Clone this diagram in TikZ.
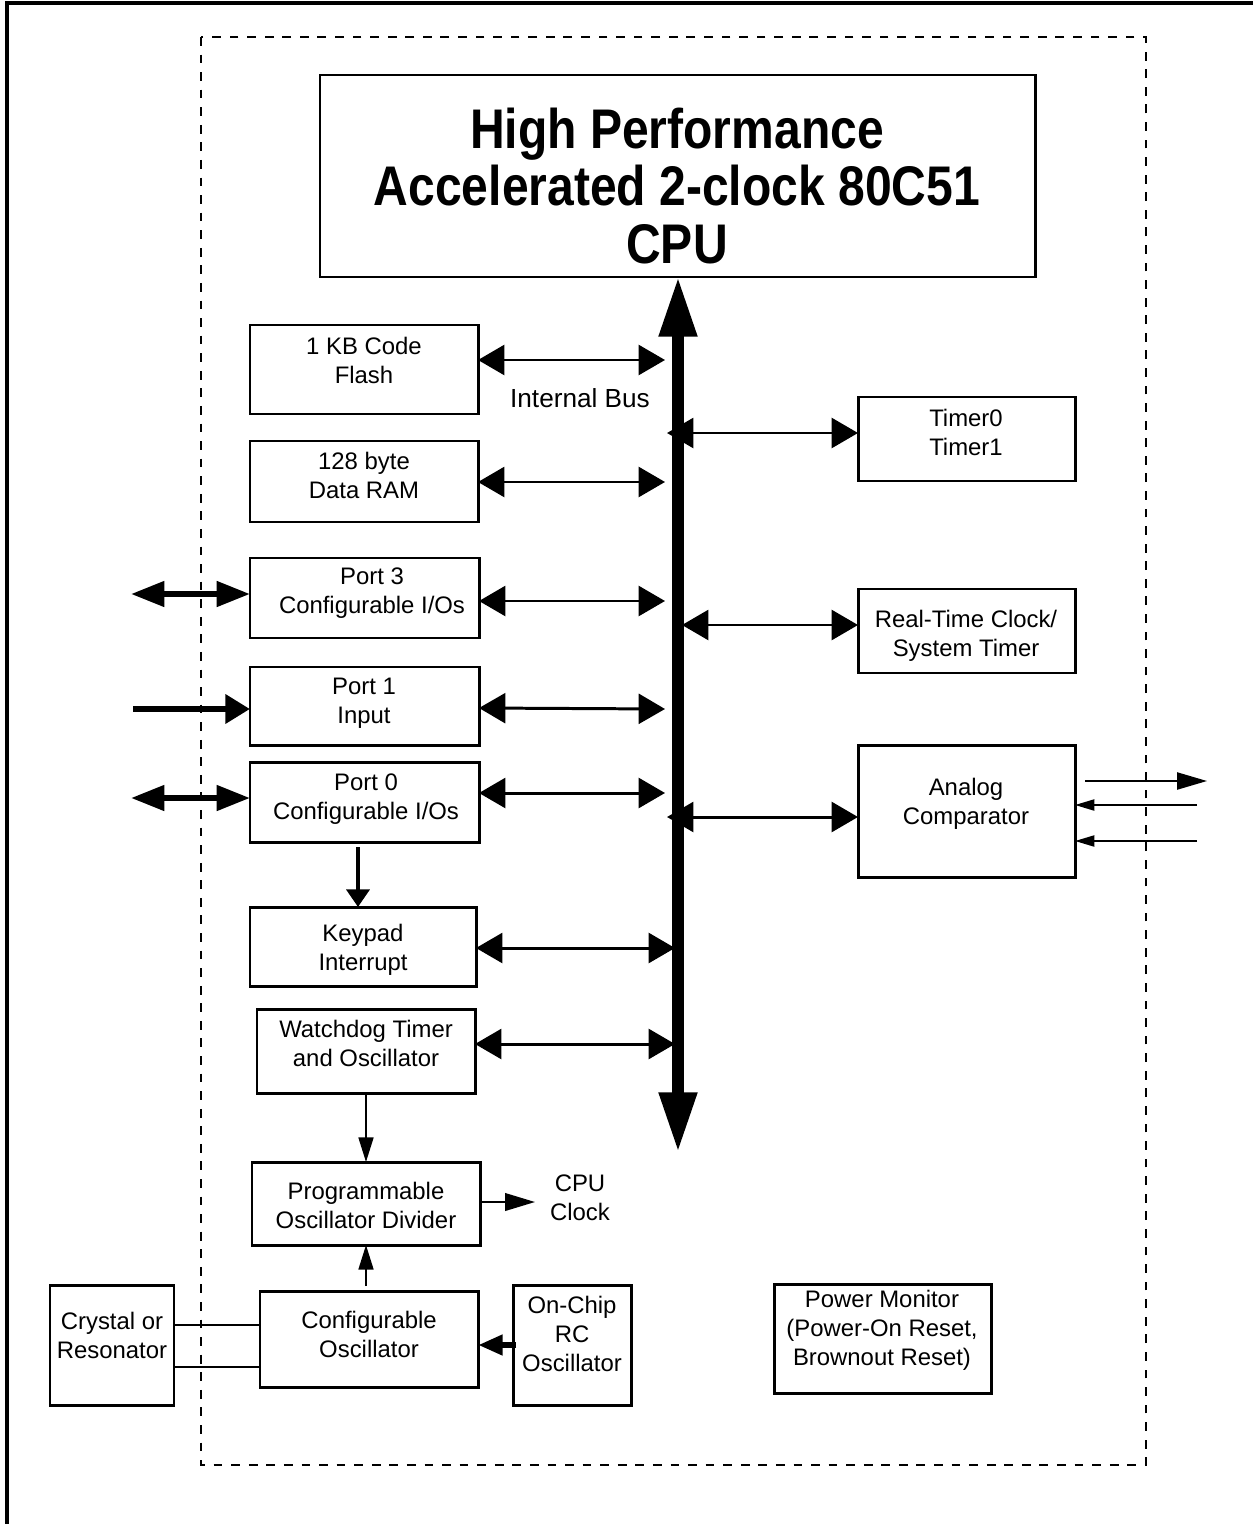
\documentclass[tikz,border=0pt]{standalone}
\usepackage{fontspec}
\setmainfont{Liberation Sans}
\newfontfamily\titlefont[FakeStretch=0.86]{Liberation Sans}
\usetikzlibrary{arrows.meta}
\newcommand\blkbox[5]{\node[blk, minimum width={(#4-#2)*0.02cm}, minimum height={(#5-#3)*0.02cm}] (#1) at ({(#2+#4)/2},{(#3+#5)/2}) {};}
\tikzset{
  blk/.style={draw, rectangle, line width=1.7pt, inner sep=0pt, outer sep=0pt},
  txt/.style={font=\fontsize{13.6}{16.5}\selectfont, align=center, inner sep=0pt},
  frameline/.style={line width=2.3pt},
  dashbox/.style={line width=1.4pt, dash pattern=on 5pt off 5pt},
  busarr/.style={line width=6.3pt, {Triangle[length=34pt,width=20.5pt]}-{Triangle[length=34pt,width=20.5pt]}},
  darr/.style={line width=1.7pt, {Triangle[length=15pt,width=17pt]}-{Triangle[length=15pt,width=17pt]}},
  extdarr/.style={line width=3.4pt, {Triangle[length=19pt,width=14pt]}-{Triangle[length=19pt,width=14pt]}},
  extin/.style={line width=3.6pt, -{Triangle[length=14pt,width=16pt]}},
  kparr/.style={line width=2.3pt, -{Triangle[length=10pt,width=13pt]}},
  thinarr/.style={line width=1.1pt, -{Triangle[length=14pt,width=8.5pt]}},
  clkarr/.style={line width=1.1pt, -{Triangle[length=17pt,width=10pt]}},
  rcarr/.style={line width=3.8pt, -{Triangle[length=14pt,width=11pt]}},
  acout/.style={line width=1.1pt, -{Triangle[length=17pt,width=9.7pt]}},
  acin/.style={line width=1.1pt, -{Triangle[length=11pt,width=6.3pt]}},
  wire/.style={line width=1.1pt}
}
\begin{document}
\begin{tikzpicture}[x=0.02cm, y=-0.02cm]
\useasboundingbox (0,0) rectangle (1253,1524);
% outer frame and chip outline
\draw[frameline] (7,1530) -- (7,3) -- (1260,3);
\draw[dashbox] (201,37) rectangle (1146,1465);
% blocks
\blkbox{cpu}{320}{75}{1035}{277}
\blkbox{flash}{250}{325}{478}{414}
\blkbox{ram}{250}{441}{478}{522}
\blkbox{port3}{250}{558}{479}{638}
\blkbox{port1}{250}{667}{479}{745}
\blkbox{port0}{250}{762}{479}{842}
\blkbox{keypad}{250}{907}{476}{986}
\blkbox{wdt}{257}{1009}{475}{1093}
\blkbox{div}{252}{1162}{480}{1245}
\blkbox{cosc}{260}{1291}{478}{1387}
\blkbox{rcosc}{513}{1285}{631}{1405}
\blkbox{xtal}{50}{1285}{174}{1405}
\blkbox{pmon}{774}{1284}{991}{1393}
\blkbox{timer}{858}{397}{1075}{481}
\blkbox{rtc}{858}{589}{1075}{673}
\blkbox{acomp}{858}{745}{1075}{877}
% texts
\node[inner sep=0pt, align=center, font=\titlefont\bfseries\fontsize{31.8}{32.5}\selectfont] (cputxt) at (677,186) {High Performance\\Accelerated 2-clock 80C51\\CPU};
\node[txt] (flasht) at (364,360) {1 KB Code\\Flash};
\node[txt] (ramt) at (364,475) {128 byte\\Data RAM};
\node[txt] (port3t) at (372,593.5) {Port 3\\Configurable I/Os};
\node[txt] (port1t) at (364,703) {Port 1\\Input};
\node[txt] (port0t) at (366,799) {Port 0\\Configurable I/Os};
\node[txt] (keypadt) at (363,950) {Keypad\\Interrupt};
\node[txt] (wdtt) at (366,1043.5) {Watchdog Timer\\and Oscillator};
\node[txt] (divt) at (366,1205) {Programmable\\Oscillator Divider};
\node[txt] (cosct) at (369,1334) {Configurable\\Oscillator};
\node[txt] (rcosct) at (572,1334) {On-Chip\\RC\\Oscillator};
\node[txt] (xtalt) at (112,1335.5) {Crystal or\\Resonator};
\node[txt] (pmont) at (882,1330) {Power Monitor\\(Power-On Reset,\\Brownout Reset)};
\node[txt] (timert) at (966,432) {Timer0\\Timer1};
\node[txt] (rtct) at (966,636) {Real-Time Clock/\\System Timer};
\node[txt] (acompt) at (966,804) {Analog\\Comparator};
\node[txt, font=\fontsize{14.9}{18}\selectfont] (busl) at (580,398) {Internal Bus};
\node[txt] (clkl) at (580,1198) {CPU\\Clock};
% bus
\coordinate (bustop) at (678,277);
\coordinate (busbot) at (678,1152);
\coordinate (busL) at (665,0);
\coordinate (busK) at (675,0);
\coordinate (busR) at (667,0);
\coordinate (busR2) at (682,0);
\draw[busarr] (bustop) -- (busbot);
% block <-> bus
\draw[darr] (flash.east |- 0,360) -- (busL |- 0,360);
\draw[darr] (ram.east |- 0,482) -- (busL |- 0,482);
\draw[darr] (port3.east |- 0,601) -- (busL |- 0,601);
\draw[darr] (port1.east |- 0,708) -- (busL |- 0,709);
\draw[darr] (port0.east |- 0,793) -- (busL |- 0,793);
\draw[darr] (keypad.east |- 0,948) -- (busK |- 0,948);
\draw[darr] (wdt.east |- 0,1044) -- (busK |- 0,1044);
\draw[darr] (busR |- 0,433) -- (timer.west |- 0,433);
\draw[darr] (busR2 |- 0,625) -- (rtc.west |- 0,625);
\draw[darr] (busR |- 0,817) -- (acomp.west |- 0,817);
% external port pins
\coordinate (p3ext) at (131,594);
\coordinate (p1ext) at (133,709);
\coordinate (p0ext) at (131,798);
\draw[extdarr] (p3ext) -- (port3.west |- p3ext);
\draw[extin] (p1ext) -- (port1.west |- p1ext);
\draw[extdarr] (p0ext) -- (port0.west |- p0ext);
% internal flows
\draw[kparr] (port0.south -| 358,0) ++(0,5) -- (keypad.north -| 358,0);
\draw[thinarr] (wdt.south -| 366,0) -- (div.north -| 366,0);
\draw[thinarr] (cosc.north -| 366,0) ++(0,-5) -- (div.south -| 366,0);
\coordinate (clkend) at (535,1202);
\draw[clkarr] (div.east |- clkend) -- (clkend);
\draw[rcarr] (rcosc.west |- 0,1345) ++(3,0) -- (cosc.east |- 0,1345);
\draw[wire] (xtal.east |- 0,1325) -- (cosc.west |- 0,1325);
\draw[wire] (xtal.east |- 0,1367) -- (cosc.west |- 0,1367);
% analog comparator pins
\coordinate (acoutend) at (1207,781);
\coordinate (acin1) at (1197,805);
\coordinate (acin2) at (1197,841);
\draw[acout] (acomp.east |- acoutend) ++(10,0) -- (acoutend);
\draw[acin] (acin1) -- (acomp.east |- acin1);
\draw[acin] (acin2) -- (acomp.east |- acin2);
\end{tikzpicture}
\end{document}
